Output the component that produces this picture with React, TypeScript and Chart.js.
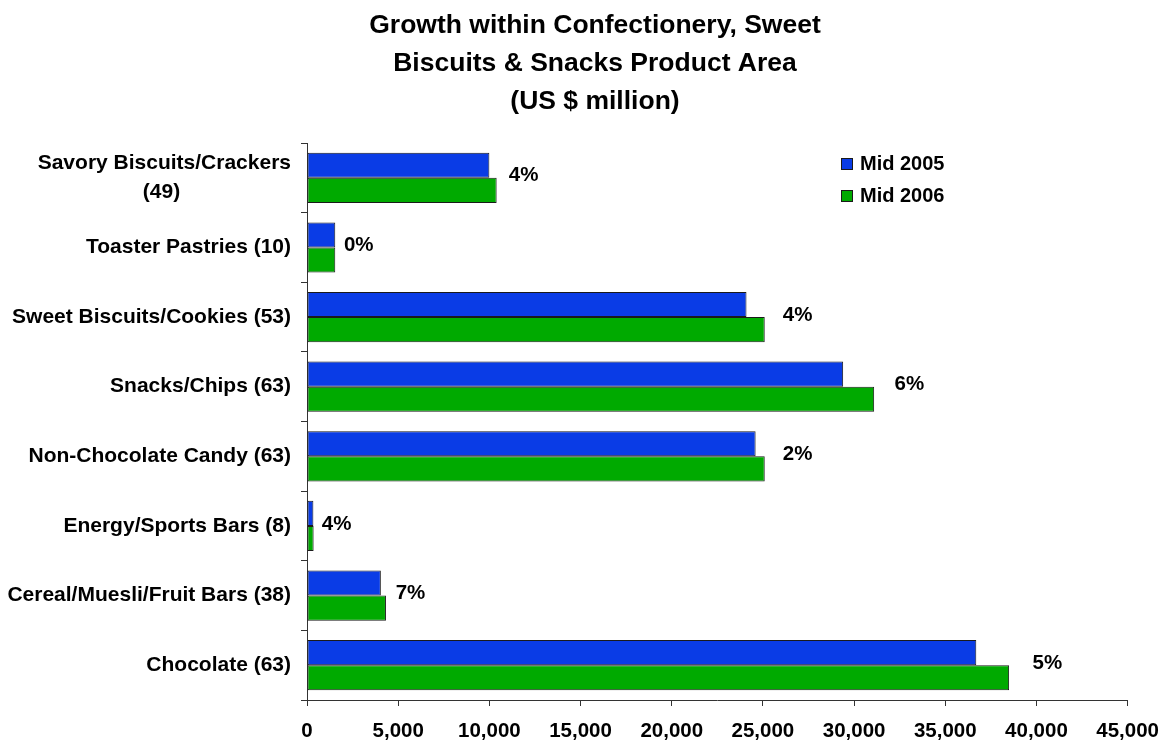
import React, { useEffect, useRef } from "react";
import { Chart, registerables } from "chart.js";

Chart.register(...registerables);

const FONT = '"Liberation Sans", Arial, Helvetica, sans-serif';

const titleLines = [
  "Growth within Confectionery, Sweet",
  "Biscuits & Snacks Product Area",
  "(US $ million)",
];

const categories: (string | string[])[] = [
  ["Savory Biscuits/Crackers", "(49)"],
  "Toaster Pastries (10)",
  "Sweet Biscuits/Cookies (53)",
  "Snacks/Chips (63)",
  "Non-Chocolate Candy (63)",
  "Energy/Sports Bars (8)",
  "Cereal/Muesli/Fruit Bars (38)",
  "Chocolate (63)",
];

const seriesNames = ["Mid 2005", "Mid 2006"];
const mid2005 = [10000, 1550, 24100, 29400, 24600, 350, 4050, 36700];
const mid2006 = [10400, 1550, 25100, 31100, 25100, 364, 4330, 38500];
const growthLabels = ["4%", "0%", "4%", "6%", "2%", "4%", "7%", "5%"];

const xTicks = [0, 5000, 10000, 15000, 20000, 25000, 30000, 35000, 40000, 45000];

const BLUE = "#0a3ce6";
const GREEN = "#00aa00";
const EDGE = "#1a1a1a";

const labelFont = { family: FONT, size: 21, weight: "bold" as const, lineHeight: 1.36 };

// centre the second line of a two-line right-aligned label under the first
function centredLines(lines: string[]): string[] {
  const c = document.createElement("canvas").getContext("2d");
  if (!c) return lines;
  c.font = `bold ${labelFont.size}px ${FONT}`;
  const w0 = c.measureText(lines[0]).width;
  const w1 = c.measureText(lines[1]).width;
  const sp = c.measureText("\u00A0").width || 5.8;
  const n = Math.max(0, Math.round((w0 - w1) / 2 / sp));
  return [lines[0], lines[1] + "\u00A0".repeat(n)];
}

// the title is centred a little right of the canvas centre
const titleShift = {
  id: "titleShift",
  afterLayout(chart: any) {
    if (chart.titleBlock) chart.titleBlock.left = 62;
  },
};

const growthPlugin = {
  id: "growthLabels",
  afterDatasetsDraw(chart: any) {
    const { ctx } = chart;
    const meta = chart.getDatasetMeta(1);
    const yScale = chart.scales.y;
    ctx.save();
    ctx.font = `bold 20.5px ${FONT}`;
    ctx.fillStyle = "#000";
    ctx.textAlign = "left";
    ctx.textBaseline = "middle";
    meta.data.forEach((el: any, i: number) => {
      const gap = 8 + 0.4 * (mid2006[i] / 1000);
      const y = yScale.getPixelForValue(i) - 2;
      ctx.fillText(growthLabels[i], el.x + gap, y);
    });
    ctx.restore();
  },
};

const legendPlugin = {
  id: "boxLegend",
  afterDraw(chart: any) {
    const { ctx } = chart;
    ctx.save();
    ctx.font = `bold 20px ${FONT}`;
    ctx.textAlign = "left";
    ctx.textBaseline = "alphabetic";
    chart.data.datasets.forEach((ds: any, i: number) => {
      const top = 158 + i * 32;
      ctx.fillStyle = ds.backgroundColor;
      ctx.fillRect(841, top, 11, 11);
      ctx.strokeStyle = EDGE;
      ctx.lineWidth = 1;
      ctx.strokeRect(841.5, top + 0.5, 11, 11);
      ctx.fillStyle = "#000";
      ctx.fillText(ds.label, 860, top + 11.5);
    });
    ctx.restore();
  },
};

export default function App() {
  const ref = useRef<HTMLCanvasElement | null>(null);

  useEffect(() => {
    if (!ref.current) return;
    const labels = categories.map((c) => (Array.isArray(c) ? centredLines(c) : c));
    const chart = new Chart(ref.current, {
      type: "bar",
      data: {
        labels,
        datasets: [
          {
            label: seriesNames[0],
            data: mid2005,
            backgroundColor: BLUE,
            borderColor: EDGE,
            borderWidth: 1,
            borderSkipped: false,
            categoryPercentage: 0.72,
            barPercentage: 1.0,
          },
          {
            label: seriesNames[1],
            data: mid2006,
            backgroundColor: GREEN,
            borderColor: EDGE,
            borderWidth: 1,
            borderSkipped: false,
            categoryPercentage: 0.72,
            barPercentage: 1.0,
          },
        ],
      },
      options: {
        indexAxis: "y",
        animation: false,
        responsive: true,
        maintainAspectRatio: false,
        layout: { padding: { top: 0, left: 0, right: 36, bottom: 0 } },
        plugins: {
          legend: { display: false },
          tooltip: { enabled: false },
          title: {
            display: true,
            text: titleLines,
            color: "#000",
            font: { family: FONT, size: 26.5, weight: "bold", lineHeight: 1.434 },
            padding: { top: 7, bottom: 22 },
          },
        },
        scales: {
          x: {
            type: "linear",
            min: 0,
            max: 45000,
            afterBuildTicks: (scale: any) => {
              scale.ticks = xTicks.map((v) => ({ value: v }));
            },
            afterFit: (scale: any) => {
              scale.height = 41;
            },
            grid: {
              display: true,
              drawOnChartArea: false,
              drawTicks: true,
              tickLength: 6,
              color: "#333",
            },
            border: { display: true, color: "#333", width: 1 },
            ticks: {
              color: "#000",
              padding: 5,
              maxRotation: 0,
              font: { family: FONT, size: 20.5, weight: "bold", lineHeight: 2.0 },
              callback: (v: any) => Number(v).toLocaleString("en-US"),
            },
          },
          y: {
            type: "category",
            afterFit: (scale: any) => {
              scale.width = 307;
            },
            grid: {
              display: true,
              offset: true,
              drawOnChartArea: false,
              drawTicks: true,
              tickLength: 6,
              color: "#333",
            },
            border: { display: true, color: "#333", width: 1 },
            ticks: {
              color: "#000",
              padding: 10,
              font: labelFont,
            },
          },
        },
      },
      plugins: [titleShift, growthPlugin, legendPlugin],
    });
    return () => chart.destroy();
  }, []);

  return (
    <div
      style={{
        position: "fixed",
        left: 0,
        top: 0,
        width: 1164,
        height: 741,
        background: "#fff",
      }}
    >
      <canvas ref={ref} />
    </div>
  );
}
